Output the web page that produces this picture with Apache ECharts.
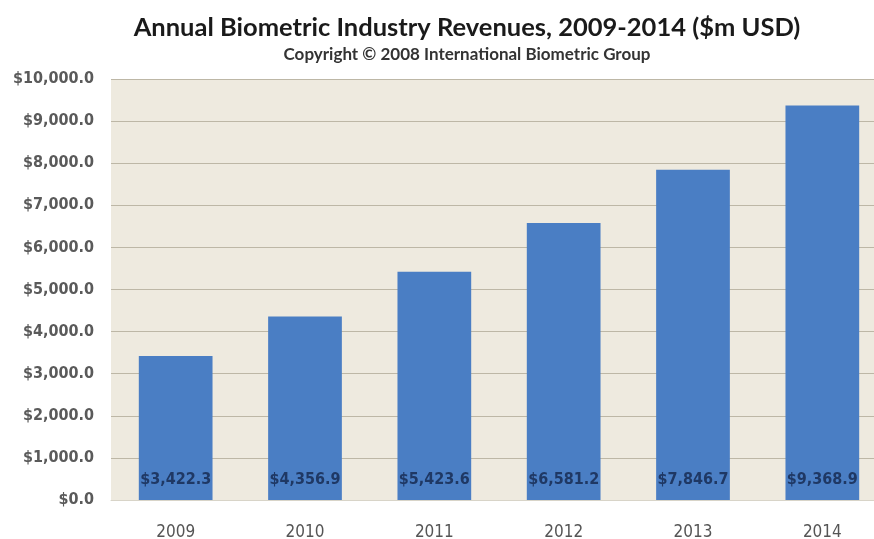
<!DOCTYPE html>
<html><head><meta charset="utf-8">
<script src="https://cdn.jsdelivr.net/npm/echarts@6/dist/echarts.min.js"></script>
<style>html,body{margin:0;padding:0;background:#fff;overflow:hidden;width:874px;height:539px}#c{width:934px;height:539px}</style>
</head><body><div id="c"></div>
<script>
const categories = ['2009','2010','2011','2012','2013','2014'];
const revenues = [3422.3, 4356.9, 5423.6, 6581.2, 7846.7, 9368.9];
const titleText = 'Annual Biometric Industry Revenues, 2009-2014 ($m USD)';
const subtitleText = 'Copyright \u00A9 2008 International Biometric Group';

function money(v){
  return '$' + Number(v).toLocaleString('en-US',{minimumFractionDigits:1,maximumFractionDigits:1});
}
const cond = '"DejaVu Sans Condensed", "DejaVu Sans", sans-serif';
const chart = echarts.init(document.getElementById('c'));
chart.setOption({
  animation:false,
  backgroundColor:'#fff',
  title:{
    text:titleText, subtext:subtitleText, left:'center', top:10, itemGap:5,
    textStyle:{fontFamily:'Lato', fontWeight:'bold', fontSize:25.5, color:'#1a1a1a'},
    subtextStyle:{fontFamily:'Lato', fontWeight:'bold', fontSize:17, color:'#333'}
  },
  grid:{left:111, top:79, height:421, width:776, outerBoundsMode:'none', containLabel:false,
    show:true, backgroundColor:'#EEEADF', borderWidth:0},
  xAxis:{type:'category', data:categories,
    axisLine:{show:true, lineStyle:{color:'#d8d4c8'}}, axisTick:{show:false},
    axisLabel:{fontFamily:cond, fontSize:17, color:'#555', margin:24}},
  yAxis:{type:'value', min:0, max:10000, interval:1000,
    axisLine:{show:false}, axisTick:{show:false},
    splitLine:{lineStyle:{color:'#BDB7A6', width:1}},
    axisLabel:{fontFamily:cond, fontWeight:'bold', fontSize:16, color:'#5a5a5a', margin:17, formatter:money}},
  series:[{type:'bar', data:revenues, barCategoryGap:'43%',
    itemStyle:{color:'#4A7EC4'},
    label:{show:true, position:'insideBottom', distance:12, formatter:p=>money(p.value),
      fontFamily:cond, fontWeight:'bold', fontSize:16, color:'#1F3864'}}]
});
</script></body></html>
